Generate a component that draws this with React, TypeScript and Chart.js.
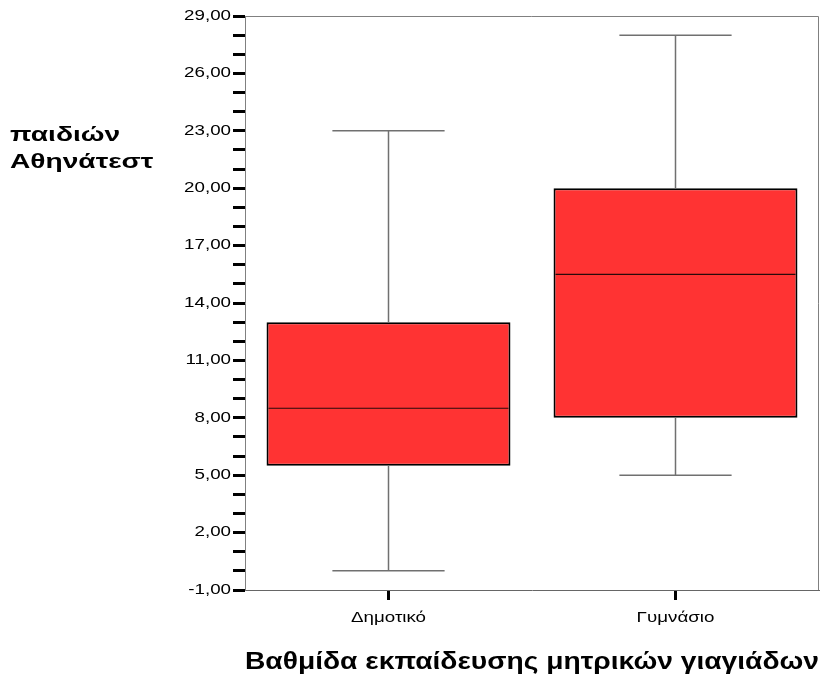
import React, { useEffect, useRef } from "react";
import { Chart, registerables } from "chart.js";

Chart.register(...registerables);

const categories = ["Δημοτικό", "Γυμνάσιο"];
const mins = [0, 5];
const q1s = [5.5, 8];
const medians = [8.5, 15.5];
const q3s = [13, 20];
const maxs = [23, 28];

const yMin = -1;
const yMax = 29;
const yStep = 1;
const yLabelEvery = 3;

const yTitleLines = ["παιδιών", "Αθηνάτεστ"];
const xTitle = "Βαθμίδα εκπαίδευσης μητρικών γιαγιάδων";

const FONT = "Arial, 'Liberation Sans', sans-serif";
const TEXT_STRETCH = 1.34;

const boxPlugin = {
  id: "boxWhiskers",
  beforeDraw(chart: any) {
    const ctx = chart.ctx;
    const orig = CanvasRenderingContext2D.prototype.fillText;
    ctx.fillText = function (t: string, x: number, y: number, mw?: number) {
      this.save();
      this.translate(x, y);
      this.scale(TEXT_STRETCH, 1);
      if (mw === undefined || mw === null) orig.call(this, t, 0, 0);
      else orig.call(this, t, 0, 0, mw / TEXT_STRETCH);
      this.restore();
    };
  },
  beforeDatasetsDraw(chart: any) {
    const { ctx, chartArea } = chart;
    ctx.save();
    ctx.strokeStyle = "#808080";
    ctx.lineWidth = 1;
    ctx.beginPath();
    ctx.moveTo(chartArea.left, chartArea.top + 0.5);
    ctx.lineTo(chartArea.right - 0.5, chartArea.top + 0.5);
    ctx.lineTo(chartArea.right - 0.5, chartArea.bottom);
    ctx.stroke();
    ctx.restore();
  },
  afterDatasetsDraw(chart: any) {
    const { ctx } = chart;
    const xs = chart.scales.x;
    const ys = chart.scales.y;
    const meta = chart.getDatasetMeta(0);
    ctx.save();
    categories.forEach((_, i) => {
      const x = xs.getPixelForValue(i);
      const bar = meta.data[i];
      const half = bar.width / 2;
      const cap = half * 0.46;
      ctx.strokeStyle = "#707070";
      ctx.lineWidth = 1.5;
      ctx.beginPath();
      ctx.moveTo(x, ys.getPixelForValue(q3s[i]));
      ctx.lineTo(x, ys.getPixelForValue(maxs[i]));
      ctx.moveTo(x, ys.getPixelForValue(q1s[i]));
      ctx.lineTo(x, ys.getPixelForValue(mins[i]));
      ctx.stroke();
      ctx.beginPath();
      const yT = ys.getPixelForValue(maxs[i]);
      const yB = ys.getPixelForValue(mins[i]);
      ctx.moveTo(x - cap, yT);
      ctx.lineTo(x + cap, yT);
      ctx.moveTo(x - cap, yB);
      ctx.lineTo(x + cap, yB);
      ctx.stroke();
      ctx.strokeStyle = "#2a0a0a";
      ctx.lineWidth = 1.2;
      const ym = ys.getPixelForValue(medians[i]);
      ctx.beginPath();
      ctx.moveTo(x - half + 2, ym);
      ctx.lineTo(x + half - 2, ym);
      ctx.stroke();
    });
    ctx.restore();
  },
  afterDraw(chart: any) {
    const { ctx } = chart;
    ctx.save();
    ctx.fillStyle = "#000";
    ctx.font = "bold 21px " + FONT;
    ctx.textAlign = "left";
    ctx.textBaseline = "alphabetic";
    ctx.fillText(yTitleLines[0], 10, 141);
    ctx.fillText(yTitleLines[1], 10, 168);
    ctx.restore();
    delete ctx.fillText;
  },
};

export default function App() {
  const ref = useRef<HTMLCanvasElement>(null);
  useEffect(() => {
    if (!ref.current) return;
    const chart = new Chart(ref.current, {
      type: "bar",
      data: {
        labels: categories,
        datasets: [
          {
            data: categories.map((_, i) => [q1s[i], q3s[i]]) as any,
            backgroundColor: "#FF3333",
            borderColor: "#000000",
            borderWidth: 2,
            borderSkipped: false,
            barPercentage: 0.85,
            categoryPercentage: 1,
          },
        ],
      },
      options: {
        responsive: false,
        animation: false,
        events: [],
        layout: { padding: { left: 0, top: 16, right: 10, bottom: 0 } },
        plugins: {
          legend: { display: false },
          tooltip: { enabled: false },
        },
        scales: {
          x: {
            offset: true,
            grid: {
              offset: false,
              drawOnChartArea: false,
              drawTicks: true,
              tickLength: 10,
              tickWidth: 3,
              tickColor: "#000",
            },
            border: { color: "#666", width: 1 },
            ticks: {
              color: "#000",
              font: { size: 14, family: FONT },
              padding: 10,
            },
            title: {
              display: true,
              text: xTitle,
              color: "#000",
              font: { size: 23, weight: "bold", family: FONT },
              padding: { top: 0, bottom: 3 },
            },
            afterFit: (s: any) => {
              s.height = 89;
            },
          },
          y: {
            min: yMin,
            max: yMax,
            grid: {
              drawOnChartArea: false,
              drawTicks: true,
              tickLength: 12,
              tickWidth: 3,
              tickColor: "#000",
            },
            border: { color: "#808080", width: 1 },
            ticks: {
              stepSize: yStep,
              autoSkip: false,
              color: "#000",
              font: { size: 14, family: FONT },
              padding: 2,
              callback: (v: any) => {
                const n = Number(v);
                return Math.round(n - yMin) % yLabelEvery === 0
                  ? n.toFixed(2).replace(".", ",")
                  : "";
              },
            },
            afterFit: (s: any) => {
              s.width = 245;
            },
          },
        },
      },
      plugins: [boxPlugin],
    });
    return () => chart.destroy();
  }, []);
  return (
    <div style={{ position: "absolute", left: 0, top: 0, width: 829, height: 679, background: "#fff" }}>
      <canvas ref={ref} width={829} height={679} />
    </div>
  );
}
